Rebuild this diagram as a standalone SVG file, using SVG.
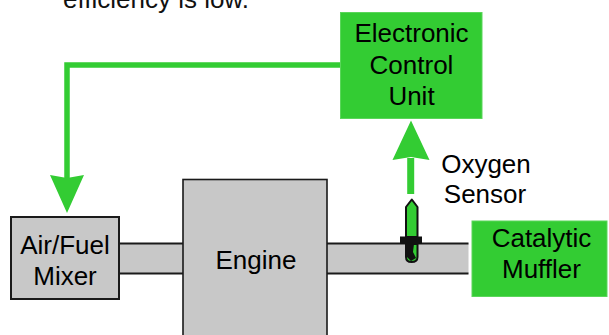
<svg xmlns="http://www.w3.org/2000/svg" width="609" height="335" viewBox="0 0 609 335">
<style>
text{font-family:"Liberation Sans",Arial,sans-serif;font-size:26px;fill:#000;text-anchor:middle}
.gray{fill:#c8c8c8;stroke:#1a1a1a;stroke-width:2}
.green{fill:#33cc33;stroke:#5ad65a;stroke-width:1}
.pipe{fill:#c8c8c8}
.pline{stroke:#1a1a1a;stroke-width:2;fill:none}
.conn{stroke:#33cc33;stroke-width:5.5;fill:none}
.head{fill:#33cc33}
</style>
<text x="63" y="8" style="text-anchor:start;fill:#111">efficiency is low.</text>
<g id="pipes">
<rect class="pipe" x="119" y="243.5" width="64" height="30"/>
<path class="pline" d="M119 243.5H183M119 273.5H183"/>
<rect class="pipe" x="327" y="243.5" width="141.5" height="30"/>
<path class="pline" d="M327 243.5H468.5M327 273.5H468.5"/>
</g>
<g id="connectors">
<path class="conn" d="M340 65H67V180"/>
<polygon class="head" points="50,175 67,178 84,175 67,213"/>
<path class="conn" d="M410.7 194V158" style="stroke-width:7"/>
<polygon class="head" points="392.5,160 411,157 429.5,160 411,120.5"/>
</g>
<g id="ecu">
<rect class="green" x="340.5" y="12.5" width="141.5" height="106"/>
<text x="411.5" y="42">Electronic</text>
<text x="411.5" y="74">Control</text>
<text x="411.5" y="105">Unit</text>
</g>
<g id="mixer">
<rect class="gray" x="11" y="217" width="108" height="82"/>
<text x="65" y="254">Air/Fuel</text>
<text x="65" y="285">Mixer</text>
</g>
<g id="engine">
<rect class="gray" x="183" y="179.5" width="144" height="170" style="stroke-width:1.6"/>
<text x="256" y="269">Engine</text>
</g>
<g id="sensor">
<path d="M411.8 199.5L417.5 207V237H406V207Z" fill="#33cc33" stroke="#111" stroke-width="2" stroke-linejoin="round"/>
<path d="M406 244V257Q406 262 411.5 262Q417.5 262 417.5 257V244Z" fill="#33cc33" stroke="#111" stroke-width="2"/>
<path d="M406 244L414 244L413 252L416 258L411 261L406 256Z" fill="#111"/>
<rect x="400" y="236.5" width="22" height="7.5" fill="#111"/>
</g>
<g id="oxygen-label">
<text x="486" y="173">Oxygen</text>
<text x="485" y="203">Sensor</text>
</g>
<g id="muffler">
<rect class="green" x="472" y="221" width="135" height="75.5"/>
<text x="541.5" y="247">Catalytic</text>
<text x="541.5" y="278">Muffler</text>
</g>
</svg>
